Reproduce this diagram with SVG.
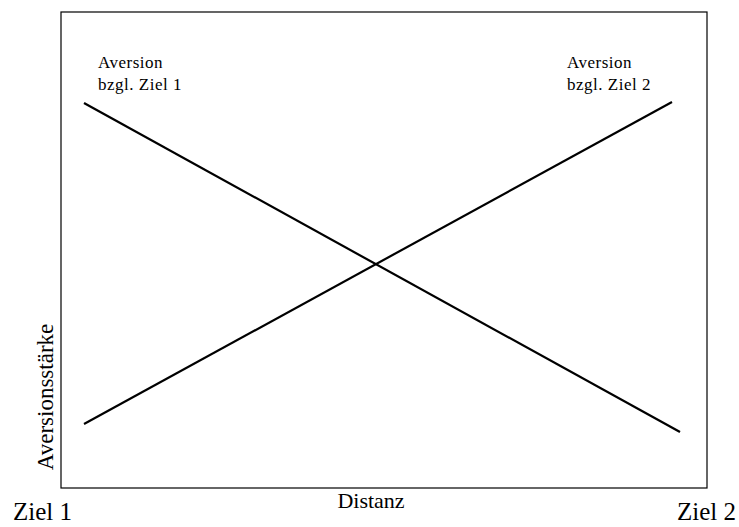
<svg xmlns="http://www.w3.org/2000/svg" width="739" height="527" viewBox="0 0 739 527">
<style>
text{font-family:"Liberation Serif","Times New Roman",serif;fill:#000}
.lbl{font-size:17px;letter-spacing:0.5px}
.curve{stroke:#000;stroke-width:2.2;fill:none}
</style>
<rect x="0" y="0" width="739" height="527" fill="#fff"/>
<g id="frame">
<rect x="61" y="12" width="646" height="476" fill="none" stroke="#000" stroke-width="1.2"/>
</g>
<g id="connectors">
<line class="curve" x1="84" y1="103" x2="680" y2="432"/>
<line class="curve" x1="84" y1="424" x2="672" y2="102"/>
</g>
<g id="label-ziel1-aversion">
<text class="lbl" x="98" y="68">Aversion</text>
<text class="lbl" x="98" y="90">bzgl. Ziel 1</text>
</g>
<g id="label-ziel2-aversion">
<text class="lbl" x="567" y="68">Aversion</text>
<text class="lbl" x="567" y="90">bzgl. Ziel 2</text>
</g>
<g id="y-axis-label">
<text x="53" y="397" font-size="23" text-anchor="middle" transform="rotate(-90 53 397)">Aversionsstärke</text>
</g>
<g id="x-axis-label">
<text x="371" y="508" font-size="22" text-anchor="middle">Distanz</text>
</g>
<g id="ziel1">
<text x="13" y="520" font-size="25">Ziel 1</text>
</g>
<g id="ziel2">
<text x="736" y="520" font-size="25" text-anchor="end">Ziel 2</text>
</g>
</svg>
